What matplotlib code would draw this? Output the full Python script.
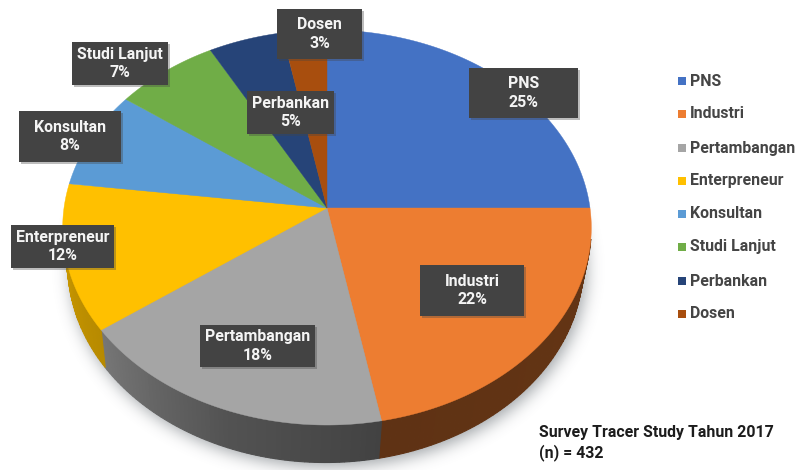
"""Graduate employment pie from the 2017 tracer study, drawn as a tilted 3D disc."""
import numpy as np
import matplotlib
matplotlib.use("Agg")
import matplotlib.pyplot as plt
from matplotlib.patches import Polygon, Rectangle
from matplotlib.path import Path
import matplotlib.patheffects as pe

plt.rcParams["font.family"] = ["Roboto", "DejaVu Sans"]

categories = ["PNS", "Industri", "Pertambangan", "Enterpreneur",
              "Konsultan", "Studi Lanjut", "Perbankan", "Dosen"]
shares = [25, 22, 18, 12, 8, 7, 5, 3]
colors = ["#4472C4", "#ED7D31", "#A5A5A5", "#FFC000",
          "#5B9BD5", "#70AD47", "#264478", "#A84E0E"]

# label boxes in pixels: left, right, top, bottom
boxes = [(469, 578, 68, 118), (420, 524, 265, 316), (200, 315, 325, 367),
         (11, 114, 225, 268), (19, 121, 111, 162), (72, 168, 42, 85),
         (247, 334, 91, 134), (277, 362, 9, 59)]
legend_y = [81, 114, 148, 181, 214, 247, 281, 314]

CX, CY = 327.0, 208.0
RX, RY = 263.0, 195.6
PERSP = 0.0987          # foreshortening of the far edge
DEPTH = 37.5
BOTTOM_SCALE = 0.975

# shade of the side wall against clock angle
SHADE_ANGLE = [0, 169, 200, 234, 270, 360]
SHADE = [0.46, 0.40, 0.50, 0.72, 0.80, 0.80]


def top_rim(deg):
    """Clock angle (deg, 0 at top, clockwise) -> pixel position on the top face."""
    t = np.radians(deg)
    u, v = np.sin(t), -np.cos(t)
    w = 1 - PERSP * v
    return CX + RX * u / w, CY + RY * v / w


def bottom_rim(deg):
    x, y = top_rim(deg)
    return CX + BOTTOM_SCALE * (x - CX) - 1.5, y + DEPTH


def shade(hex_color, f):
    return tuple(f * c for c in matplotlib.colors.to_rgb(hex_color))


def blur(a, sigma):
    k = np.exp(-0.5 * (np.arange(-3 * sigma, 3 * sigma + 1) / sigma) ** 2)
    k /= k.sum()
    a = np.apply_along_axis(np.convolve, 0, a, k, mode="same")
    return np.apply_along_axis(np.convolve, 1, a, k, mode="same")


fig = plt.figure(figsize=(7.98, 4.70), dpi=100)
ax = fig.add_axes([0, 0, 1, 1])

# soft shadow under the disc
ang = np.linspace(0, 360, 361)
bx, by = bottom_rim(ang)
xx, yy = np.meshgrid(np.arange(798) + 0.5, np.arange(470) + 0.5)
pts = np.column_stack([xx.ravel(), yy.ravel()])
mask = Path(np.column_stack([bx + 3, by + 4])).contains_points(pts).reshape(xx.shape)
soft = blur(mask.astype(float), 8)
rgba = np.zeros((470, 798, 4))
rgba[..., :3] = (0.30, 0.33, 0.36)
rgba[..., 3] = 0.55 * soft
ax.imshow(rgba, extent=(0, 798, 470, 0), interpolation="bilinear", zorder=1)

edges = np.concatenate([[0], np.cumsum(shares)]) / np.sum(shares) * 360
top_face = Path(np.column_stack(top_rim(ang)))

# side wall, cut into thin strips so the shade can vary along it
for start, end, col in zip(edges[:-1], edges[1:], colors):
    steps = np.arange(start, end + 1.0, 1.0)
    steps[-1] = end
    for a0, a1 in zip(steps[:-1], steps[1:]):
        x0, y0 = top_rim(np.array([a0, a1]))
        x1, y1 = bottom_rim(np.array([a1, a0]))
        # strips behind the top face would only leave a dark fringe on the rim
        if top_face.contains_points(np.column_stack([x1, y1])).all():
            continue
        fc = shade(col, np.interp((a0 + a1) / 2, SHADE_ANGLE, SHADE))
        ax.add_patch(Polygon(np.column_stack([np.r_[x0, x1], np.r_[y0, y1]]),
                             fc=fc, ec=fc, lw=0.8, zorder=2))

# top face
for start, end, col in zip(edges[:-1], edges[1:], colors):
    a = np.linspace(start, end, max(int(end - start) * 2, 8))
    x, y = top_rim(a)
    ax.add_patch(Polygon(np.column_stack([np.r_[CX, x], np.r_[CY, y]]),
                         fc=col, ec=col, lw=0.3, zorder=3))

# value labels
for name, val, (l, r, t, b) in zip(categories, shares, boxes):
    ax.add_patch(Rectangle((l, t), r - l, b - t, fc="#434343", ec="none", zorder=4,
                           path_effects=[pe.withSimplePatchShadow(offset=(1.5, -1.5),
                                                                  shadow_rgbFace="#444444",
                                                                  alpha=0.35)]))
    ax.text((l + r) / 2, (t + b) / 2, f"{name}\n{val}%", color="#f4f4f4", ha="center",
            va="center", fontsize=11.4, fontweight="bold", linespacing=1.3, zorder=5)

# legend
for name, col, y in zip(categories, colors, legend_y):
    ax.add_patch(Rectangle((678, y - 4), 8, 8, fc=col, ec="none", zorder=4))
    ax.text(690, y, name, color="#454545", ha="left", va="center",
            fontsize=11.4, fontweight="bold", zorder=5)

ax.text(539, 432, "Survey Tracer Study Tahun 2017", color="#1c1c1c", ha="left", va="center",
        fontsize=11.4, fontweight="bold", zorder=5)
ax.text(539, 453, "(n) = 432", color="#1c1c1c", ha="left", va="center",
        fontsize=11.4, fontweight="bold", zorder=5)

ax.set_xlim(0, 798)
ax.set_ylim(470, 0)
ax.axis("off")
fig.savefig("out.png", dpi=100, facecolor="white")
